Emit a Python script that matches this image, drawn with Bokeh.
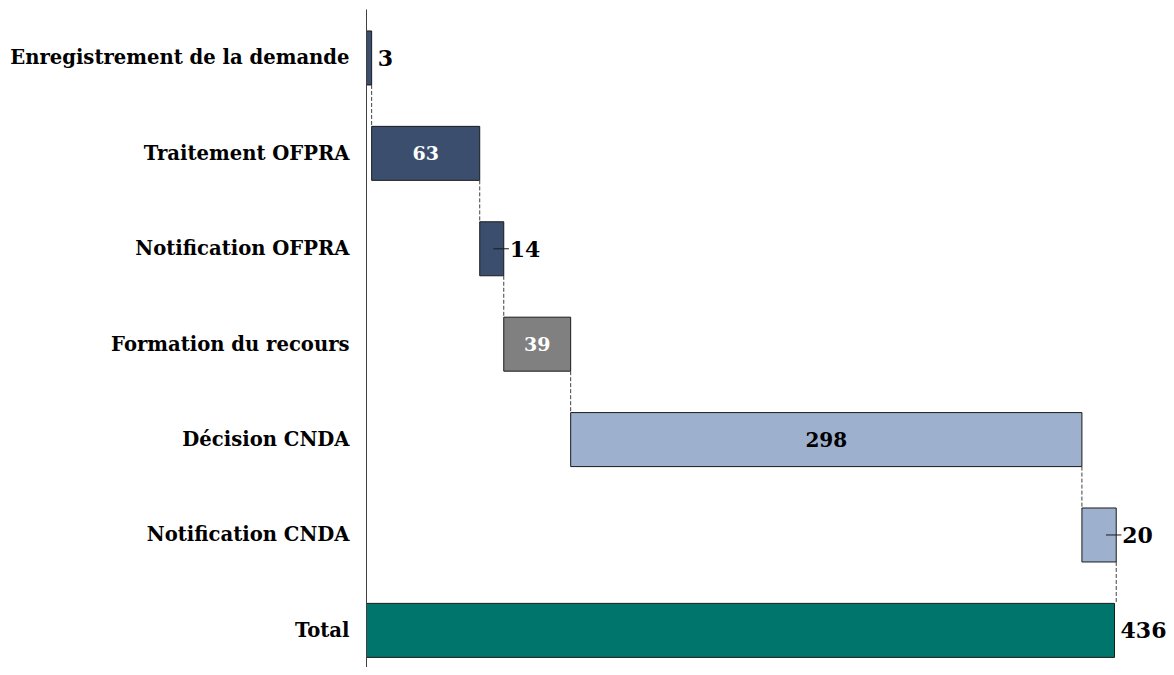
from bokeh.plotting import figure
from bokeh.models import Range1d, FixedTicker, ColumnDataSource
from bokeh.embed import file_html
from bokeh.resources import INLINE
from bokeh.core.properties import value

# ---- data ----
categories = ["Enregistrement de la demande", "Traitement OFPRA", "Notification OFPRA",
              "Formation du recours", "Décision CNDA", "Notification CNDA", "Total"]
step_values = [3, 63, 14, 39, 298, 20]
total_value = 436

# ---- styles ----
bar_colors = ["#3B4E6D", "#3B4E6D", "#3B4E6D", "#808080", "#9DB0CE", "#9DB0CE", "#00756B"]
label_modes = ["out", "in_white", "out", "in_white", "in_black", "out", "out"]
leader_flags = [False, False, True, False, False, True, False]
FONT = "DejaVu Serif"
BAR_H = 0.566

# ---- derived waterfall geometry ----
n = len(categories)
ys = [n - 1 - i for i in range(n)]
lefts, rights = [], []
acc = 0
for v in step_values:
    lefts.append(acc)
    acc += v
    rights.append(acc)
lefts.append(0)
rights.append(total_value)
values = step_values + [total_value]

p = figure(width=1166, height=667,
           x_range=Range1d(0, 466.3), y_range=Range1d(-0.389, 6.508),
           output_backend="svg", toolbar_location=None, x_axis_location=None,
           min_border_left=366, min_border_right=0, min_border_top=9, min_border_bottom=0)
p.outline_line_color = None
p.xgrid.visible = False
p.ygrid.visible = False

ax = p.yaxis[0]
ax.ticker = FixedTicker(ticks=ys)
ax.major_label_overrides = {y: c for y, c in zip(ys, categories)}
ax.major_tick_in = 0
ax.major_tick_out = 0
ax.minor_tick_in = 0
ax.minor_tick_out = 0
ax.axis_line_color = "#404040"
ax.axis_line_width = 1
ax.major_label_standoff = 17
ax.major_label_text_font = FONT
ax.major_label_text_font_style = "bold"
ax.major_label_text_font_size = "19.6px"
ax.major_label_text_color = "#000000"

src = ColumnDataSource(dict(y=ys, left=lefts, right=rights, color=bar_colors))
p.hbar(y="y", left="left", right="right", height=BAR_H, fill_color="color",
       line_color="#1a1a1a", line_width=1, source=src)

# dashed connectors
cx, cy0, cy1 = [], [], []
for i in range(n - 1):
    cx.append(rights[i])
    cy0.append(ys[i] - BAR_H / 2)
    cy1.append(ys[i + 1] + BAR_H / 2)
p.segment(x0=cx, y0=cy0, x1=cx, y1=cy1, line_color="#404040", line_width=1, line_dash="4 2")

# leader lines
LEADER_IN, LEADER_OUT = 6, 3
lx0, lx1, ly = [], [], []
for i in range(n):
    if leader_flags[i]:
        lx0.append(rights[i] - LEADER_IN)
        lx1.append(rights[i] + LEADER_OUT)
        ly.append(ys[i])
p.segment(x0=lx0, y0=ly, x1=lx1, y1=ly, line_color="#1a1a1a", line_width=1)

# value labels
out_i = [i for i in range(n) if label_modes[i] == "out"]
p.text(x=[rights[i] for i in out_i], y=[ys[i] for i in out_i],
       text=[str(values[i]) for i in out_i], x_offset=6,
       text_align="left", text_baseline="middle", text_font=value(FONT),
       text_font_style="bold", text_font_size="22px", text_color="#000000")

wi = [i for i in range(n) if label_modes[i] == "in_white"]
p.text(x=[(lefts[i] + rights[i]) / 2 for i in wi], y=[ys[i] for i in wi],
       text=[str(values[i]) for i in wi],
       text_align="center", text_baseline="middle", text_font=value(FONT),
       text_font_style="bold", text_font_size="19px", text_color="#ffffff")

bi = [i for i in range(n) if label_modes[i] == "in_black"]
p.text(x=[(lefts[i] + rights[i]) / 2 for i in bi], y=[ys[i] for i in bi],
       text=[str(values[i]) for i in bi],
       text_align="center", text_baseline="middle", text_font=value(FONT),
       text_font_style="bold", text_font_size="20px", text_color="#000000")

open("out.html", "w").write(file_html(p, INLINE))
